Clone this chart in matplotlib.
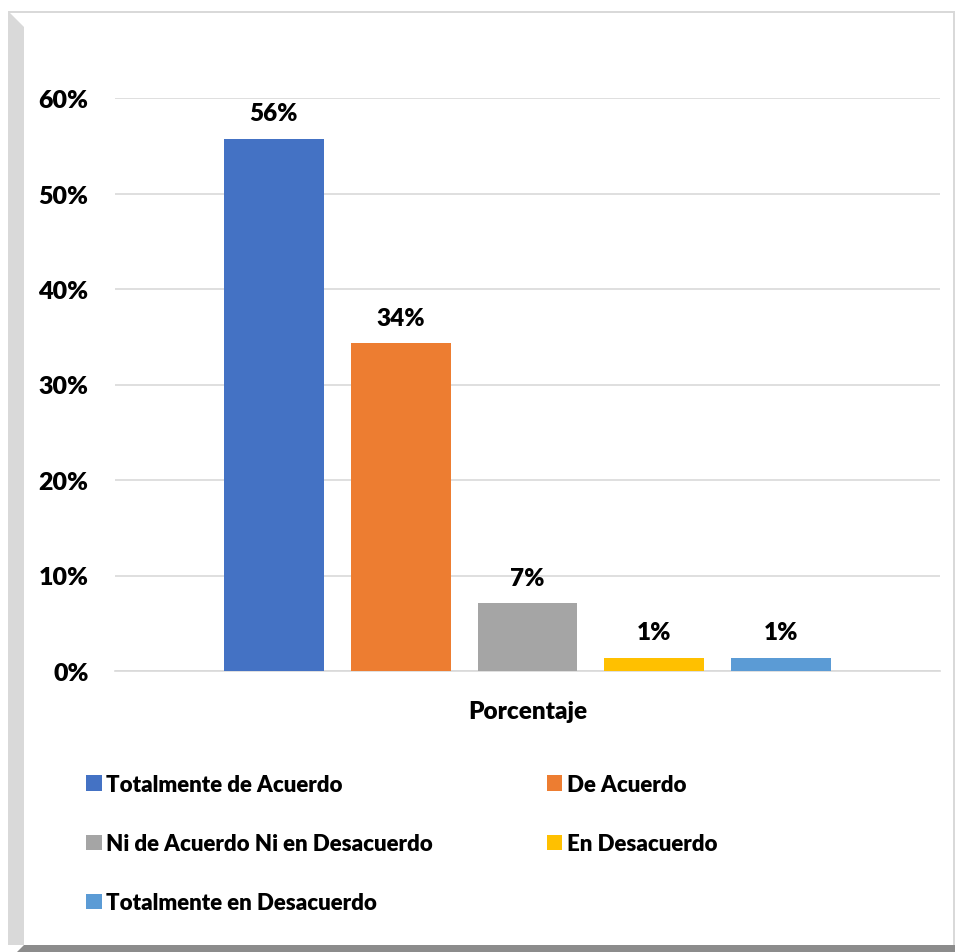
import matplotlib
matplotlib.use("Agg")
import matplotlib.pyplot as plt
from matplotlib.patches import Polygon

plt.rcParams['font.family'] = ['Lato', 'DejaVu Sans']
WEIGHT = "heavy"

categories = ["Totalmente de Acuerdo", "De Acuerdo",
              "Ni de Acuerdo Ni en Desacuerdo", "En Desacuerdo",
              "Totalmente en Desacuerdo"]
values = [55.7, 34.3, 7.1, 1.4, 1.4]
colors = ["#4472C4", "#ED7D31", "#A5A5A5", "#FFC000", "#5B9BD5"]
yticks = [0, 10, 20, 30, 40, 50, 60]
xlabel = "Porcentaje"

W, H = 955, 953
fig = plt.figure(figsize=(W / 100, H / 100), dpi=100)
fig.patch.set_facecolor("white")

# chart frame: light bevel on the left/top, dark shadow at the bottom
def px(x, y):
    return (x / W, 1 - y / H)

fig.patches.append(Polygon([px(8, 12), px(24, 28), px(24, 946), px(8, 946)],
                           closed=True, transform=fig.transFigure,
                           facecolor="#d9d9d9", edgecolor="none"))
fig.patches.append(Polygon([px(8, 12), px(955, 12), px(955, 14), px(8, 14)],
                           closed=True, transform=fig.transFigure,
                           facecolor="#d9d9d9", edgecolor="none"))
fig.patches.append(Polygon([px(953, 12), px(955, 12), px(955, 947), px(953, 947)],
                           closed=True, transform=fig.transFigure,
                           facecolor="#d9d9d9", edgecolor="none"))
fig.patches.append(Polygon([px(24, 946), px(955, 946), px(955, 953), px(17, 953)],
                           closed=True, transform=fig.transFigure,
                           facecolor="#8c8c8c", edgecolor="none"))

ax = fig.add_axes([115 / W, (H - 672) / H, (940 - 115) / W, (672 - 99) / H])
x = list(range(len(values)))
bars = ax.bar(x, values, width=100 / 127, color=colors, zorder=3)
ax.set_xlim(-1.252, 5.252)
ax.set_ylim(0, 60)
ax.set_yticks(yticks)
ax.set_yticklabels([f"{t}%" for t in yticks], fontsize=18, fontweight=WEIGHT)
ax.set_xticks([])
ax.tick_params(axis="y", length=0, pad=19)
ax.grid(axis="y", color="#d9d9d9", linewidth=1.2, zorder=0)
for s in ["top", "right", "left"]:
    ax.spines[s].set_visible(False)
ax.spines["bottom"].set_color("#d9d9d9")
ax.spines["bottom"].set_linewidth(1.2)

for b, v in zip(bars, values):
    ax.annotate(f"{v:.0f}%", (b.get_x() + b.get_width() / 2, v),
                xytext=(0, 10.5), textcoords="offset points",
                ha="center", va="bottom", fontsize=17.5, fontweight=WEIGHT)

ax.set_xlabel(xlabel, fontsize=17.5, fontweight=WEIGHT, labelpad=21)

order = [0, 2, 4, 1, 3]
leg = fig.legend([bars[i] for i in order], [categories[i] for i in order],
                 ncol=2, loc="upper left", bbox_to_anchor=(86 / W, 1 - 775 / H),
                 frameon=False, prop={"size": 16, "weight": WEIGHT},
                 handlelength=0.7, handleheight=0.7,
                 handletextpad=0.22, labelspacing=1.72, columnspacing=5.1,
                 borderaxespad=0, borderpad=0)

fig.savefig("out.png", dpi=100, facecolor="white")
